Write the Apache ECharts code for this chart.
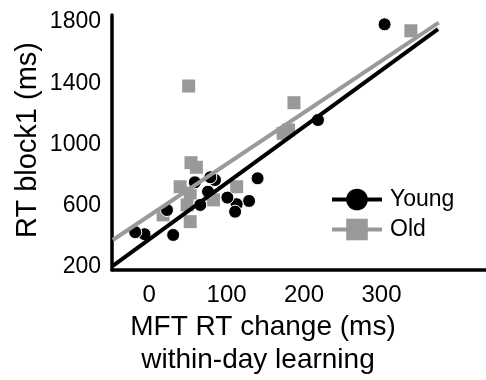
<!DOCTYPE html>
<html>
<head>
<meta charset="utf-8">
<script src="https://cdn.jsdelivr.net/npm/echarts@6/dist/echarts.min.js"></script>
<style>
    html, body { margin: 0; padding: 0; background: #fff; }
    #chart { width: 486px; height: 380px; }
</style>
</head>
<body>
<div id="chart"></div>
<script>
// tick labels
var xTicks = [0, 100, 200, 300];
var yTicks = [200, 600, 1000, 1400, 1800];

// [MFT RT change, RT block1]
var youngData = [
    [304, 1785], [218, 1160], [140, 779], [129, 631], [113, 610], [111, 561],
    [101, 653], [85, 768], [79, 786], [76, 692], [66, 605], [59, 753],
    [23, 572], [31, 409], [-6, 414], [-18, 427]
];
var oldData = [
    [338, 1743], [187, 1273], [180, 1095], [173, 1073], [51, 1382], [54, 881],
    [61, 851], [40, 724], [53, 683], [49, 605], [53, 496], [18, 540],
    [83, 638], [113, 724]
];

// regression lines (end points)
var youngFit = [[-47, 207], [373, 1753]];
var oldFit = [[-47, 376], [374, 1796]];

var FONT = '"Liberation Sans", Arial, sans-serif';

document.addEventListener('DOMContentLoaded', function () {
    var chart = echarts.init(document.getElementById('chart'));
    var plain = function (v) { return String(v); };
    var option = {
        animation: false,
        grid: { left: 112, right: 0, top: 15, bottom: 110 },
        legend: {
            orient: 'vertical',
            left: 330,
            top: 188,
            padding: 0,
            itemWidth: 50,
            itemHeight: 27,
            itemGap: 7,
            data: ['Young', 'Old'],
            lineStyle: { width: 4 },
            textStyle: { fontFamily: FONT, fontSize: 23, color: '#000', padding: [0, 0, 0, 3] }
        },
        xAxis: {
            type: 'value',
            min: -48,
            max: 435,
            axisLine: { onZero: false, lineStyle: { color: '#000', width: 3.5 } },
            axisTick: { show: false },
            splitLine: { show: false },
            axisLabel: {
                customValues: xTicks,
                formatter: plain,
                margin: 13,
                fontFamily: FONT,
                fontSize: 24,
                color: '#000'
            }
        },
        yAxis: {
            type: 'value',
            min: 180,
            max: 1846,
            axisLine: { show: true, onZero: false, lineStyle: { color: '#000', width: 3.5 } },
            axisTick: { show: false },
            splitLine: { show: false },
            axisLabel: {
                customValues: yTicks,
                formatter: plain,
                margin: 11,
                fontFamily: FONT,
                fontSize: 23,
                color: '#000'
            }
        },
        graphic: [
            {
                type: 'text',
                x: 263, y: 327,
                style: { text: 'MFT RT change (ms)', font: '28px ' + FONT, fill: '#000', textAlign: 'center', textVerticalAlign: 'middle' }
            },
            {
                type: 'text',
                x: 258, y: 360,
                style: { text: 'within-day learning', font: '28px ' + FONT, fill: '#000', textAlign: 'center', textVerticalAlign: 'middle' }
            },
            {
                type: 'text',
                x: 28, y: 140,
                rotation: Math.PI / 2,
                style: { text: 'RT block1 (ms)', font: '29px ' + FONT, fill: '#000', textAlign: 'center', textVerticalAlign: 'middle' }
            }
        ],
        series: [
            {
                name: 'Old',
                type: 'line',
                data: oldFit,
                symbol: 'rect',
                showSymbol: false,
                lineStyle: { color: '#999999', width: 4 },
                itemStyle: { color: '#999999' },
                silent: true
            },
            {
                name: 'Old',
                type: 'scatter',
                data: oldData,
                symbol: 'rect',
                symbolSize: 13,
                itemStyle: { color: '#999999', opacity: 1 }
            },
            {
                name: 'Young',
                type: 'line',
                data: youngFit,
                symbol: 'circle',
                showSymbol: false,
                lineStyle: { color: '#000', width: 4 },
                itemStyle: { color: '#000' },
                silent: true
            },
            {
                name: 'Young',
                type: 'scatter',
                data: youngData,
                symbol: 'circle',
                symbolSize: 13,
                itemStyle: { color: '#000', borderColor: '#fff', borderWidth: 1, opacity: 1 }
            }
        ]
    };
    chart.setOption(option);
    window.addEventListener('resize', function () {
        chart.resize();
    });
});
</script>
</body>
</html>
